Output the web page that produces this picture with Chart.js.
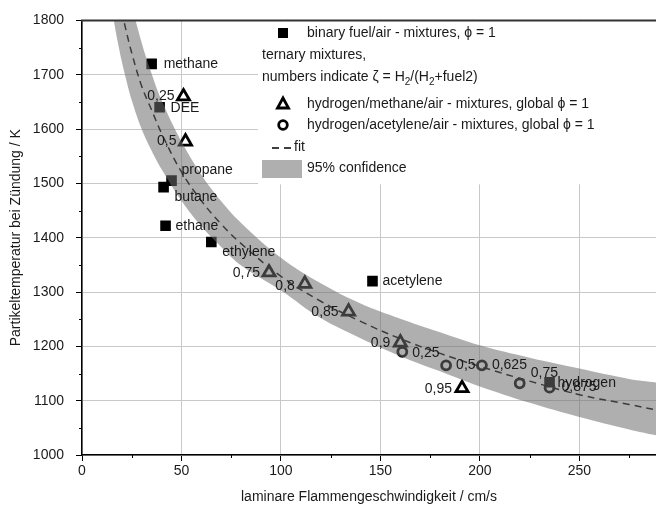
<!DOCTYPE html>
<html>
<head>
<meta charset="utf-8">
<script src="https://cdn.jsdelivr.net/npm/chart.js@4/dist/chart.umd.min.js"></script>
<style>
html, body { margin: 0; padding: 0; background: #fff; }
</style>
</head>
<body>
<canvas id="myChart" width="656" height="509"></canvas>
<script>
// fit curve and 95% confidence band
const bandX     = [14, 16, 18, 20, 22, 25, 30, 35, 40, 50, 60, 70, 80, 100, 120, 140, 160, 180, 200, 225, 250, 275, 290];
const fitY      = [1947, 1897, 1855, 1817, 1784, 1740, 1679, 1635, 1592, 1521, 1468, 1425, 1389, 1329, 1283, 1246, 1214, 1187, 1163, 1136, 1111, 1093, 1082];
const bandUpper = [2047, 1994, 1949, 1909, 1874, 1828, 1759, 1702, 1653, 1577, 1516, 1467, 1427, 1363, 1316, 1279, 1251, 1226, 1202, 1179, 1159, 1140, 1133];
const bandLower = [1847, 1800, 1760, 1725, 1694, 1653, 1600, 1560, 1526, 1468, 1421, 1383, 1349, 1303, 1252, 1215, 1182, 1154, 1126, 1096, 1070, 1047, 1035];

// binary fuel/air mixtures
const binaryNames = ['methane', 'DEE', 'propane', 'butane', 'ethane', 'ethylene', 'acetylene', 'hydrogen'];
const binaryX     = [35, 39, 45, 41, 42, 65, 146, 235];
const binaryY     = [1720, 1640, 1505, 1493, 1422, 1392, 1320, 1134];

// hydrogen/methane/air
const methaneZeta = ['0,25', '0,5', '0,75', '0,8', '0,85', '0,9', '0,95'];
const methaneX    = [51, 52, 94, 112, 134, 160, 191];
const methaneY    = [1660, 1577, 1336, 1315, 1264, 1207, 1123];

// hydrogen/acetylene/air
const acetZeta = ['0,25', '0,5', '0,625', '0,75', '0,875'];
const acetX    = [161, 183, 201, 220, 235];
const acetY    = [1190, 1165, 1165, 1132, 1124];

const FONT = '"Liberation Sans", Arial, sans-serif';
const TEXT = '#1a1a1a';

function toPoints(xs, ys)
{
    return xs.map((x, i) => ({x: x, y: ys[i]}));
}

// label placement next to the markers
const labelSets = [
    {names: binaryNames, x: binaryX, y: binaryY, align: 'left',
     offsets: [[12, 0], [11, 1], [10, -11], [11, 10], [10, 0], [11, 10], [10, 0], [8, 1]]},
    {names: methaneZeta, x: methaneX, y: methaneY, align: 'right',
     offsets: [[-9, 0], [-9, 0], [-9, 1], [-10, 2], [-10, 1], [-10, 1], [-10, 1]]},
    {names: acetZeta, x: acetX, y: acetY, align: 'left',
     offsets: [[10, 1], [10, 0], [10, 0], [11, -10], [12, 0]]}
];

const pointLabels = {
    id: 'pointLabels',
    afterDatasetsDraw(chart)
    {
        const ctx = chart.ctx;
        const xs = chart.scales.x;
        const ys = chart.scales.y;
        ctx.save();
        ctx.font = '14px ' + FONT;
        ctx.fillStyle = TEXT;
        ctx.textBaseline = 'middle';
        labelSets.forEach(set => {
            set.names.forEach((name, i) => {
                const px = xs.getPixelForValue(set.x[i]);
                const py = ys.getPixelForValue(set.y[i]);
                ctx.textAlign = set.align;
                ctx.fillText(name, px + set.offsets[i][0], py + set.offsets[i][1]);
            });
        });
        ctx.restore();
    }
};

// minor ticks, top frame line
const frame = {
    id: 'frame',
    afterDraw(chart)
    {
        const ctx = chart.ctx;
        const a = chart.chartArea;
        const xs = chart.scales.x;
        const ys = chart.scales.y;
        ctx.save();
        ctx.strokeStyle = '#000';
        ctx.lineWidth = 1;
        ctx.beginPath();
        for (let v = 25; v < 288; v += 50)
        {
            const px = Math.round(xs.getPixelForValue(v)) + 0.5;
            ctx.moveTo(px, a.bottom);
            ctx.lineTo(px, a.bottom + 3);
        }
        for (let v = 1050; v < 1800; v += 100)
        {
            const py = Math.round(ys.getPixelForValue(v)) + 0.5;
            ctx.moveTo(a.left, py);
            ctx.lineTo(a.left - 3, py);
        }
        ctx.stroke();

        ctx.strokeStyle = '#333';
        ctx.lineWidth = 2;
        ctx.beginPath();
        ctx.moveTo(a.left - 1, a.top);
        ctx.lineTo(a.right, a.top);
        ctx.stroke();
        ctx.restore();
    }
};

function richText(ctx, parts, x, y)
{
    parts.forEach(p => {
        if (p[1])
        {
            ctx.font = '10px ' + FONT;
            ctx.fillText(p[0], x, y + 5);
        }
        else
        {
            ctx.font = '14px ' + FONT;
            ctx.fillText(p[0], x, y);
        }
        x += ctx.measureText(p[0]).width;
    });
}

const legendBox = {
    id: 'legendBox',
    afterDatasetsDraw(chart)
    {
        const ctx = chart.ctx;
        const a = chart.chartArea;
        ctx.save();
        ctx.fillStyle = '#fff';
        ctx.fillRect(258, a.top + 1, a.right - 258, 163);

        const sx = 283, tx = 307;
        ctx.fillStyle = TEXT;
        ctx.textBaseline = 'middle';
        ctx.textAlign = 'left';

        // square
        ctx.fillStyle = '#000';
        ctx.fillRect(sx - 5, 28, 10, 10);
        ctx.fillStyle = TEXT;
        richText(ctx, [['binary fuel/air - mixtures, ϕ = 1', 0]], tx, 33);
        richText(ctx, [['ternary mixtures,', 0]], 262, 55);
        richText(ctx, [['numbers indicate ζ = H', 0], ['2', 1], ['/(H', 0], ['2', 1], ['+fuel2)', 0]], 262, 77);

        // triangle
        ctx.strokeStyle = '#000';
        ctx.lineWidth = 2.8;
        ctx.beginPath();
        ctx.moveTo(sx, 98);
        ctx.lineTo(sx + 5.5, 108);
        ctx.lineTo(sx - 5.5, 108);
        ctx.closePath();
        ctx.stroke();
        richText(ctx, [['hydrogen/methane/air - mixtures, global ϕ = 1', 0]], tx, 104);

        // circle
        ctx.beginPath();
        ctx.arc(sx, 125, 4.3, 0, Math.PI * 2);
        ctx.stroke();
        richText(ctx, [['hydrogen/acetylene/air - mixtures, global ϕ = 1', 0]], tx, 125);

        // fit
        ctx.lineWidth = 1.5;
        ctx.setLineDash([7, 5]);
        ctx.beginPath();
        ctx.moveTo(272, 148);
        ctx.lineTo(292, 148);
        ctx.stroke();
        ctx.setLineDash([]);
        richText(ctx, [['fit', 0]], 294, 147);

        // band
        ctx.fillStyle = 'rgba(110,110,110,0.55)';
        ctx.fillRect(262, 160, 40, 18);
        ctx.fillStyle = TEXT;
        richText(ctx, [['95% confidence', 0]], tx, 168);
        ctx.restore();
    }
};

const ctx = document.getElementById('myChart').getContext('2d');
const myChart = new Chart(ctx, {
    type: 'scatter',
    data: {
        datasets: [
            {
                data: toPoints(bandX, bandUpper),
                showLine: true,
                pointRadius: 0,
                borderWidth: 0,
                borderColor: 'rgba(0,0,0,0)',
                backgroundColor: 'rgba(110,110,110,0.55)',
                fill: '+1',
                tension: 0.4
            },
            {
                data: toPoints(bandX, bandLower),
                showLine: true,
                pointRadius: 0,
                borderWidth: 0,
                borderColor: 'rgba(0,0,0,0)',
                fill: false,
                tension: 0.4
            },
            {
                data: toPoints(bandX, fitY),
                showLine: true,
                pointRadius: 0,
                borderWidth: 1.5,
                borderColor: '#000',
                borderDash: [7, 5],
                fill: false,
                tension: 0.4
            },
            {
                data: toPoints(binaryX, binaryY),
                pointStyle: 'rect',
                pointRadius: 7.5,
                backgroundColor: '#000',
                borderColor: '#000',
                borderWidth: 0
            },
            {
                data: toPoints(methaneX, methaneY),
                pointStyle: 'triangle',
                pointRadius: 7,
                backgroundColor: '#fff',
                borderColor: '#000',
                borderWidth: 2.8
            },
            {
                data: toPoints(acetX, acetY),
                pointStyle: 'circle',
                pointRadius: 4.5,
                backgroundColor: '#fff',
                borderColor: '#000',
                borderWidth: 2.8
            }
        ]
    },
    options: {
        responsive: false,
        animation: false,
        events: [],
        layout: {autoPadding: false, padding: {top: 18, right: 0, left: 0, bottom: 0}},
        plugins: {
            legend: {display: false},
            tooltip: {enabled: false}
        },
        scales: {
            x: {
                type: 'linear',
                min: 0,
                max: 288.5,
                afterFit: s => { s.height = 54; s.paddingRight = 0; s.paddingLeft = 0; },
                ticks: {
                    stepSize: 50,
                    includeBounds: false,
                    padding: 2,
                    color: TEXT,
                    font: {family: FONT, size: 14},
                    callback: v => String(v)
                },
                grid: {color: '#c8c8c8', tickColor: '#000', tickLength: 6, lineWidth: 1},
                border: {color: '#000', width: 1.5},
                title: {
                    display: true,
                    text: 'laminare Flammengeschwindigkeit / cm/s',
                    color: TEXT,
                    font: {family: FONT, size: 14},
                    padding: {top: 0, bottom: 3}
                }
            },
            y: {
                type: 'linear',
                min: 1000,
                max: 1800,
                afterFit: s => { s.width = 82; },
                ticks: {
                    stepSize: 100,
                    padding: 12,
                    color: TEXT,
                    font: {family: FONT, size: 14},
                    callback: v => String(v)
                },
                grid: {color: '#c8c8c8', tickColor: '#000', tickLength: 6, lineWidth: 1},
                border: {color: '#000', width: 1.5},
                title: {
                    display: true,
                    text: 'Partikeltemperatur bei Zündung / K',
                    color: TEXT,
                    font: {family: FONT, size: 14},
                    padding: {top: 8, bottom: 0}
                }
            }
        }
    },
    plugins: [pointLabels, legendBox, frame]
});
</script>
</body>
</html>
